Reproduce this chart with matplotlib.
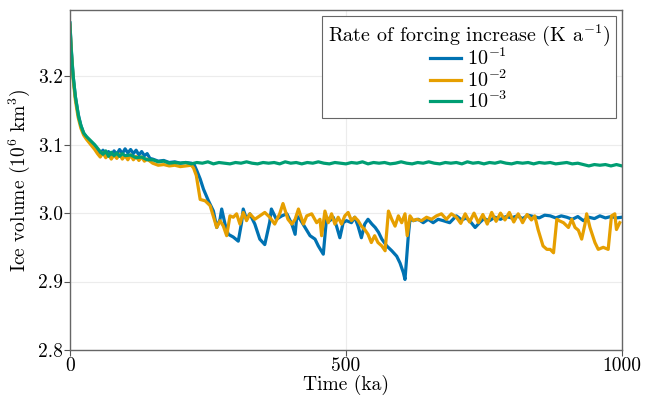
"""
Ice volume response to different rates of forcing increase.
"""
import matplotlib
matplotlib.use("Agg")
import matplotlib.pyplot as plt
import numpy as np

# --- data -------------------------------------------------------------------
rate_labels = [r"$10^{-1}$", r"$10^{-2}$", r"$10^{-3}$"]
colors = ["#0072B2", "#E69F00", "#009E73"]

blue_t = [0, 3, 6, 10, 15, 20, 25, 30, 35, 40, 45, 50, 55, 60, 65, 70, 75, 80, 85,
          90, 95, 100, 105, 110, 115, 120, 125, 130, 135, 140, 145, 150, 160, 170,
          180, 190, 200, 210, 220, 225, 230, 236, 242, 251, 260, 266, 272, 275, 281,
          287, 296, 305, 311, 314, 320, 326, 335, 344, 353, 362, 365, 374, 384, 393,
          402, 408, 411, 417, 426, 435, 444, 450, 459, 465, 471, 477, 483, 489, 495,
          501, 510, 516, 522, 528, 534, 540, 547, 553, 559, 565, 574, 583, 592, 598,
          604, 607, 613, 616, 622, 631, 640, 649, 658, 667, 676, 688, 700, 710, 718,
          726, 734, 742, 750, 760, 770, 780, 790, 800, 810, 820, 830, 840, 850, 860,
          870, 880, 890, 900, 910, 920, 930, 940, 950, 960, 970, 980, 990, 1000]
blue_v = [3.278, 3.235, 3.200, 3.170, 3.145, 3.128, 3.117, 3.111, 3.106, 3.102, 3.097,
          3.091, 3.087, 3.092, 3.085, 3.090, 3.084, 3.091, 3.086, 3.093, 3.087, 3.094,
          3.088, 3.093, 3.087, 3.092, 3.085, 3.090, 3.084, 3.087, 3.080, 3.079, 3.076,
          3.077, 3.074, 3.075, 3.073, 3.074, 3.073, 3.071, 3.062, 3.050, 3.035, 3.018,
          3.003, 2.979, 2.991, 3.006, 2.984, 2.969, 2.965, 2.959, 2.986, 3.006, 2.991,
          2.999, 2.984, 2.962, 2.954, 2.987, 3.006, 2.991, 2.996, 2.999, 2.984, 2.969,
          2.996, 2.991, 2.979, 2.967, 2.962, 2.952, 2.940, 2.994, 2.989, 2.994, 2.981,
          2.964, 2.986, 2.989, 2.986, 2.994, 2.981, 2.964, 2.984, 2.991, 2.984, 2.979,
          2.972, 2.962, 2.952, 2.945, 2.937, 2.927, 2.913, 2.903, 2.967, 2.991, 2.989,
          2.991, 2.986, 2.991, 2.986, 2.991, 2.989, 2.986, 2.996, 2.990, 2.993, 2.987,
          2.979, 2.986, 2.992, 2.989, 2.994, 2.991, 2.995, 2.993, 2.996, 2.992, 2.997,
          2.995, 2.993, 2.997, 2.996, 2.993, 2.996, 2.994, 2.991, 2.995, 2.989, 2.994,
          2.992, 2.996, 2.993, 2.995, 2.993, 2.994]

orange_t = [0, 3, 6, 10, 15, 20, 25, 30, 35, 40, 45, 50, 55, 60, 65, 70, 75, 80, 85,
            90, 95, 100, 105, 110, 115, 120, 125, 130, 135, 140, 150, 160, 170, 180,
            190, 200, 210, 220, 224, 229, 236, 245, 254, 263, 266, 272, 278, 284, 290,
            296, 302, 308, 314, 320, 326, 335, 344, 353, 362, 371, 380, 386, 395, 402,
            408, 414, 423, 429, 438, 447, 453, 456, 462, 468, 474, 480, 486, 492, 498,
            504, 510, 516, 522, 528, 534, 540, 546, 552, 558, 565, 571, 577, 583, 589,
            595, 601, 607, 611, 616, 622, 628, 637, 646, 655, 664, 673, 682, 691, 700,
            708, 716, 724, 732, 740, 748, 756, 764, 772, 780, 788, 796, 804, 812, 820,
            828, 836, 842, 848, 857, 864, 870, 876, 882, 886, 894, 903, 909, 915, 921,
            927, 933, 936, 942, 951, 957, 966, 975, 981, 987, 990, 996]
orange_v = [3.275, 3.230, 3.195, 3.165, 3.140, 3.124, 3.114, 3.108, 3.103, 3.098, 3.093,
            3.087, 3.082, 3.088, 3.081, 3.086, 3.079, 3.085, 3.080, 3.086, 3.079, 3.084,
            3.078, 3.085, 3.078, 3.083, 3.077, 3.082, 3.076, 3.079, 3.073, 3.070, 3.071,
            3.069, 3.070, 3.068, 3.069, 3.070, 3.066, 3.055, 3.020, 3.018, 3.011, 2.987,
            2.979, 2.989, 2.981, 2.967, 2.996, 2.994, 2.999, 2.984, 3.001, 2.989, 2.999,
            2.991, 2.996, 3.001, 2.994, 2.984, 2.999, 3.014, 2.991, 2.984, 2.991, 3.006,
            2.984, 2.996, 2.999, 2.986, 2.991, 2.967, 3.003, 2.986, 2.999, 2.984, 2.994,
            2.984, 2.996, 3.001, 2.989, 2.994, 2.989, 2.981, 2.976, 2.969, 2.957, 2.967,
            2.957, 2.952, 2.945, 3.003, 2.991, 2.981, 2.996, 2.986, 2.999, 2.967, 2.996,
            2.989, 2.991, 2.989, 2.994, 2.991, 2.996, 2.999, 2.991, 2.999, 2.994, 2.985,
            2.999, 2.987, 3.000, 2.986, 2.998, 2.984, 3.001, 2.988, 3.000, 2.990, 3.001,
            2.987, 2.999, 2.986, 2.998, 2.990, 2.996, 2.976, 2.952, 2.947, 2.947, 2.942,
            2.991, 2.989, 2.986, 2.979, 2.991, 2.979, 2.975, 2.962, 2.984, 2.999, 2.979,
            2.957, 2.947, 2.950, 2.947, 2.996, 2.999, 2.976, 2.986]

green_t = [0, 2, 4, 6, 8, 10, 13, 16, 20, 25, 30, 35, 40, 45, 50, 55, 60, 65, 70, 75,
           80, 85, 90, 95, 100, 110, 120, 130, 140, 150, 160, 170, 180, 190, 200, 210,
           220, 230, 240, 250, 260, 270, 280, 290, 300, 310, 320, 330, 340, 350, 360,
           370, 380, 390, 400, 410, 420, 430, 440, 450, 460, 470, 480, 490, 500, 510,
           520, 530, 540, 550, 560, 570, 580, 590, 600, 610, 620, 630, 640, 650, 660,
           670, 680, 690, 700, 710, 720, 730, 740, 750, 760, 770, 780, 790, 800, 810,
           820, 830, 840, 850, 860, 870, 880, 890, 900, 910, 920, 930, 940, 950, 960,
           970, 980, 990, 1000]
green_v = [3.278, 3.245, 3.220, 3.200, 3.185, 3.170, 3.155, 3.140, 3.128, 3.117, 3.112,
           3.108, 3.104, 3.100, 3.095, 3.090, 3.086, 3.091, 3.083, 3.089, 3.084, 3.088,
           3.083, 3.087, 3.084, 3.085, 3.081, 3.082, 3.078, 3.078, 3.075, 3.076, 3.073,
           3.074, 3.073, 3.074, 3.072, 3.074, 3.073, 3.075, 3.072, 3.074, 3.073, 3.072,
           3.074, 3.073, 3.075, 3.073, 3.072, 3.074, 3.073, 3.074, 3.072, 3.075, 3.073,
           3.074, 3.072, 3.074, 3.073, 3.075, 3.073, 3.072, 3.074, 3.073, 3.072, 3.074,
           3.073, 3.075, 3.072, 3.074, 3.073, 3.074, 3.072, 3.073, 3.075, 3.073, 3.072,
           3.074, 3.073, 3.075, 3.073, 3.072, 3.074, 3.073, 3.074, 3.072, 3.075, 3.073,
           3.074, 3.072, 3.074, 3.073, 3.075, 3.073, 3.072, 3.074, 3.073, 3.074, 3.072,
           3.074, 3.073, 3.074, 3.072, 3.073, 3.074, 3.072, 3.073, 3.071, 3.069, 3.071,
           3.070, 3.071, 3.069, 3.071, 3.069]

x_ticks = [0, 500, 1000]
y_ticks = [2.8, 2.9, 3.0, 3.1, 3.2]
y_tick_labels = ["2.8", "2.9", "3.0", "3.1", "3.2"]

# --- style --------------------------------------------------------------------
plt.rcParams["font.family"] = "serif"
plt.rcParams["font.serif"] = ["cmr10", "DejaVu Serif"]
plt.rcParams["mathtext.fontset"] = "cm"
plt.rcParams["axes.formatter.use_mathtext"] = True

fig = plt.figure(figsize=(6.53, 3.99), dpi=100)
ax = fig.add_axes([0.107, 0.123, 0.8455, 0.852])

series = [(blue_t, blue_v), (orange_t, orange_v), (green_t, green_v)]
for (t, v), c, lab in zip(series, colors, rate_labels):
    ax.plot(t, v, color=c, lw=2.3, label=lab, solid_joinstyle="round")

ax.set_xlim(0, 1000)
ax.set_ylim(2.8, 3.297)
ax.set_xticks(x_ticks)
ax.set_xticklabels([str(x) for x in x_ticks])
ax.set_yticks(y_ticks)
ax.set_yticklabels(y_tick_labels)
ax.tick_params(labelsize=14, length=4, color="#555555", pad=1)
ax.grid(True, color="#ececec", lw=0.8)
ax.set_axisbelow(True)
for sp in ax.spines.values():
    sp.set_color("#666666")
    sp.set_linewidth(1.0)

ax.set_xlabel("Time (ka)", fontsize=14, labelpad=0)
ax.set_ylabel(r"Ice volume ($10^6$ km$^3$)", fontsize=14, labelpad=4)

leg = ax.legend(title=r"Rate of forcing increase (K a$^{-1}$)", loc="upper right",
                fontsize=14.5, title_fontsize=14.5, fancybox=False, framealpha=1,
                edgecolor="#666666", handlelength=1.5, handletextpad=0.3,
                labelspacing=0.0, borderpad=0.3, borderaxespad=0.3)
leg.get_frame().set_linewidth(0.8)
for line in leg.get_lines():
    line.set_linewidth(2.3)

fig.savefig("out.png", dpi=100)
